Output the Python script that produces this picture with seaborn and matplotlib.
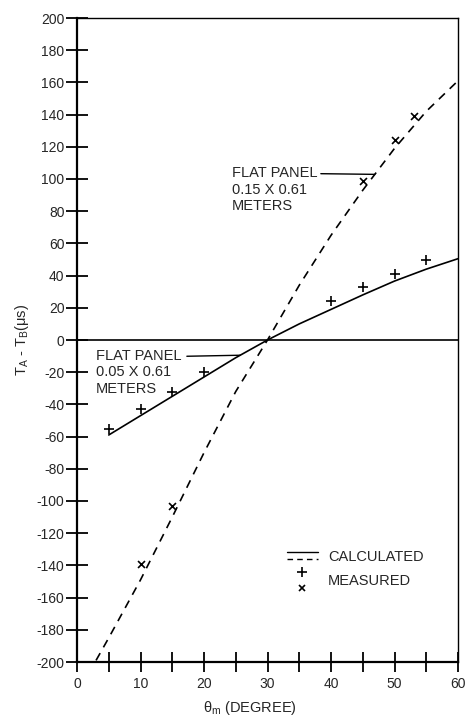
import numpy as np
import pandas as pd
import matplotlib
matplotlib.use("Agg")
import matplotlib.pyplot as plt
import seaborn as sns
from matplotlib.legend_handler import HandlerBase
from matplotlib.lines import Line2D

# ---- data ----
calc_wide_x = [3, 5, 10, 15, 20, 25, 30, 35, 40, 45, 50, 55, 60]
calc_wide_y = [-199, -185, -149, -110, -70, -32, 0, 34, 65, 93, 119, 142, 161]
calc_narrow_x = [5, 10, 15, 20, 25, 30, 35, 40, 45, 50, 55, 60]
calc_narrow_y = [-59, -47, -35, -23, -11, 0, 10, 19, 28, 36.6, 44, 50.5]
meas_narrow_x = [5, 10, 15, 20, 40, 45, 50, 55]
meas_narrow_y = [-55, -43, -32, -20, 24, 33, 41, 50]
meas_wide_x = [10, 15, 45, 50, 53]
meas_wide_y = [-139, -103, 99, 124, 139]
x_major = [0, 10, 20, 30, 40, 50, 60]
x_minor = [5, 15, 25, 35, 45, 55]
y_ticks = list(range(-200, 201, 20))
label_wide = "FLAT PANEL\n0.15 X 0.61\nMETERS"
label_narrow = "FLAT PANEL\n0.05 X 0.61\nMETERS"
legend_labels = ["CALCULATED", "MEASURED"]

sns.set_theme(style="white")
plt.rcParams["font.family"] = ["Liberation Sans", "DejaVu Sans"]
plt.rcParams["axes.unicode_minus"] = False
plt.rcParams["mathtext.fontset"] = "custom"
plt.rcParams["mathtext.rm"] = "Liberation Sans"
plt.rcParams["mathtext.it"] = "Liberation Sans"

fig = plt.figure(figsize=(4.65, 7.18), dpi=100)
ax = fig.add_axes([77 / 465, 1 - 662 / 718, 381 / 465, 644 / 718])

# zero reference line
ax.axhline(0, color="black", lw=1.2, zorder=1)

# calculated curves
sns.lineplot(x=calc_narrow_x, y=calc_narrow_y, color="black", lw=1.2, ax=ax)
sns.lineplot(x=calc_wide_x, y=calc_wide_y, color="black", lw=1.2, ax=ax)
ax.lines[-1].set_dashes((5, 4))

# measured points
sns.scatterplot(x=meas_narrow_x, y=meas_narrow_y, marker="+", color="black",
                s=55, linewidth=1.2, ax=ax)
sns.scatterplot(x=meas_wide_x, y=meas_wide_y, marker="x", color="black",
                s=25, linewidth=1.2, ax=ax)

ax.set_xlim(0, 60)
ax.set_ylim(-200, 200)
ax.set_xticks(x_major)
ax.set_xticks(x_minor, minor=True)
ax.set_xticklabels([str(v) for v in x_major])
ax.set_yticks(y_ticks)
ax.set_yticklabels([str(v) for v in y_ticks])

ax.tick_params(axis="y", which="major", direction="inout", length=16, width=1.3,
               color="black", labelsize=10, pad=1, left=True)
ax.tick_params(axis="x", which="both", direction="inout", length=15, width=1.3,
               color="black", labelsize=10, pad=3, bottom=True)

for side, lw in [("left", 1.6), ("bottom", 1.6), ("top", 1.0), ("right", 1.0)]:
    ax.spines[side].set_visible(True)
    ax.spines[side].set_color("black")
    ax.spines[side].set_linewidth(lw)

ax.set_ylabel("T$_\\mathregular{A}$ - T$_\\mathregular{B}$(μs)", fontsize=10.5, labelpad=4)
ax.set_xlabel("θ$_\\mathregular{m}$ (DEGREE)", fontsize=10.5)
ax.xaxis.set_label_coords(0.454, -0.057)

# annotations
ax.text(24.4, 108, label_wide, va="top", ha="left", fontsize=10.5, linespacing=1.22)
ax.annotate("", xy=(46.9, np.interp(46.9, calc_wide_x, calc_wide_y)), xytext=(38.4, 103.3),
            arrowprops=dict(arrowstyle="-", lw=1.0, color="black", shrinkA=0, shrinkB=0))
ax.text(2.94, -5.5, label_narrow, va="top", ha="left", fontsize=10.5, linespacing=1.22)
ax.annotate("", xy=(25.7, np.interp(25.7, calc_narrow_x, calc_narrow_y)), xytext=(17.3, -10.1),
            arrowprops=dict(arrowstyle="-", lw=1.0, color="black", shrinkA=0, shrinkB=0))


# legend with stacked handles
class Stack:
    def __init__(self, kind, styles, gap):
        self.kind = kind
        self.styles = styles
        self.gap = gap


class StackHandler(HandlerBase):
    def create_artists(self, legend, orig_handle, xdescent, ydescent, width, height,
                       fontsize, trans):
        arts = []
        n = len(orig_handle.styles)
        yc = -ydescent + height / 2
        for i, st in enumerate(orig_handle.styles):
            y = yc + (n - 1) / 2 * orig_handle.gap - i * orig_handle.gap
            if orig_handle.kind == "line":
                ln = Line2D([-xdescent, -xdescent + width], [y, y], color="black",
                            lw=1.0, transform=trans)
                if st == "--":
                    ln.set_dashes((4, 3))
            else:
                ln = Line2D([-xdescent + width / 2], [y], marker=st, ls="none",
                            color="black", ms=7 if st == "+" else 5, mew=1.2,
                            transform=trans)
            arts.append(ln)
        return arts


h1 = Stack("line", ["-", "--"], 5)
h2 = Stack("marker", ["+", "x"], 11)
ax.legend(handles=[h1, h2], labels=legend_labels, handler_map={Stack: StackHandler()},
          loc="upper left", bbox_to_anchor=(0.551, 0.178), frameon=False, borderpad=0,
          borderaxespad=0, handlelength=2.1, handleheight=1.4, labelspacing=0.5,
          handletextpad=0.7, fontsize=10.5)

fig.savefig("out.png", dpi=100, facecolor="white")
